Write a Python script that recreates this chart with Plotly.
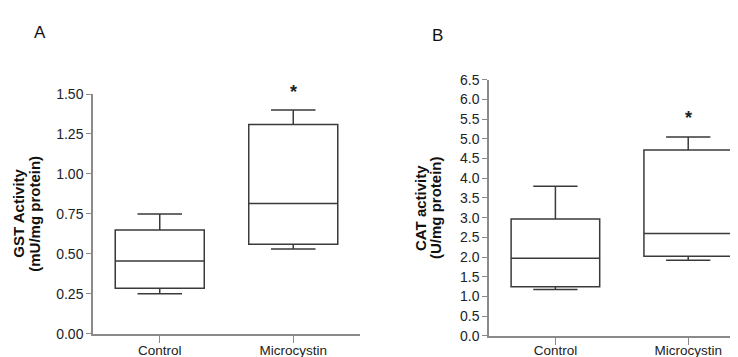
import plotly.graph_objects as go

categories = ["Control", "Microcystin"]

# Panel A: GST activity (mU/mg protein)
gst_min = [0.25, 0.53]
gst_q1 = [0.285, 0.56]
gst_median = [0.455, 0.815]
gst_q3 = [0.65, 1.31]
gst_max = [0.75, 1.40]
gst_star_y = [1.46]

# Panel B: CAT activity (U/mg protein)
cat_min = [1.18, 1.92]
cat_q1 = [1.25, 2.02]
cat_median = [1.97, 2.60]
cat_q3 = [2.97, 4.72]
cat_max = [3.80, 5.05]
cat_star_y = [5.33]

gst_ticks = [0.0, 0.25, 0.5, 0.75, 1.0, 1.25, 1.5]
cat_ticks = [i * 0.5 for i in range(14)]

W, H = 738, 357
FONT = "Liberation Sans, Arial, sans-serif"
BOX_LINE = "#3a3a3a"
AXIS = "#8a8a8a"

fig = go.Figure()

fig.add_trace(go.Box(
    x=categories, q1=gst_q1, median=gst_median, q3=gst_q3,
    lowerfence=gst_min, upperfence=gst_max,
    fillcolor="white", line=dict(color=BOX_LINE, width=1.5),
    whiskerwidth=0.5, width=0.667, boxpoints=False,
    xaxis="x", yaxis="y", showlegend=False, hoverinfo="skip"))

fig.add_trace(go.Box(
    x=categories, q1=cat_q1, median=cat_median, q3=cat_q3,
    lowerfence=cat_min, upperfence=cat_max,
    fillcolor="white", line=dict(color=BOX_LINE, width=1.5),
    whiskerwidth=0.5, width=0.667, boxpoints=False,
    xaxis="x2", yaxis="y2", showlegend=False, hoverinfo="skip"))

# significance stars (placed in data coordinates, centred on the glyph)
for xr, yr, ys in (("x", "y", gst_star_y), ("x2", "y2", cat_star_y)):
    for yv in ys:
        fig.add_annotation(
            x=categories[1], y=yv, xref=xr, yref=yr, text="<b>*</b>",
            showarrow=False, xanchor="center", yanchor="middle", yshift=8,
            font=dict(size=18, color="#222", family=FONT))

xcommon = dict(showline=True, linecolor=AXIS, linewidth=1.5, ticks="outside",
               ticklen=7, tickwidth=1.2, tickcolor=AXIS, showgrid=False,
               zeroline=False, tickfont=dict(size=13.5, color="#222", family=FONT),
               type="category", fixedrange=True)
ycommon = dict(showline=True, linecolor=AXIS, linewidth=1.5, ticks="outside",
               ticklen=5, tickwidth=1.2, tickcolor=AXIS, showgrid=False,
               zeroline=False, tickfont=dict(size=14, color="#222", family=FONT),
               fixedrange=True)

fig.update_layout(
    width=W, height=H,
    margin=dict(l=0, r=0, t=0, b=0),
    paper_bgcolor="white", plot_bgcolor="white",
    font=dict(family=FONT, color="#222"),
    xaxis=dict(domain=[85 / W, 352 / W], range=[-0.5, 1.5], anchor="y",
               ticklabelstandoff=-4, **xcommon),
    yaxis=dict(domain=[1 - 332.7 / H, 1 - 81.7 / H], range=[0, 1.5], anchor="x",
               tickvals=gst_ticks, tickformat=".2f", **ycommon),
    xaxis2=dict(domain=[481 / W, 1.0], range=[-0.5, 1.435], anchor="y2",
                ticklabelstandoff=-6, **xcommon),
    yaxis2=dict(domain=[1 - 335 / H, 1 - 66.7 / H], range=[0, 6.5], anchor="x2",
                tickvals=cat_ticks, tickformat=".1f", **ycommon),
)

def ann(text, x, y, size, bold=False, angle=0):
    fig.add_annotation(
        text=f"<b>{text}</b>" if bold else text,
        x=x / W, y=1 - y / H, xref="paper", yref="paper",
        xanchor="center", yanchor="middle", showarrow=False, textangle=angle,
        font=dict(size=size, color="#111", family=FONT))

ann("A", 32, 17, 17)
ann("B", 429, 20, 17)
ann("GST Activity", 11, 207, 15, bold=True, angle=-90)
ann("(mU/mg protein)", 27, 207, 15, bold=True, angle=-90)
ann("CAT activity", 413, 201, 15, bold=True, angle=-90)
ann("(U/mg protein)", 428, 201, 15, bold=True, angle=-90)

fig.write_html("out.html")
